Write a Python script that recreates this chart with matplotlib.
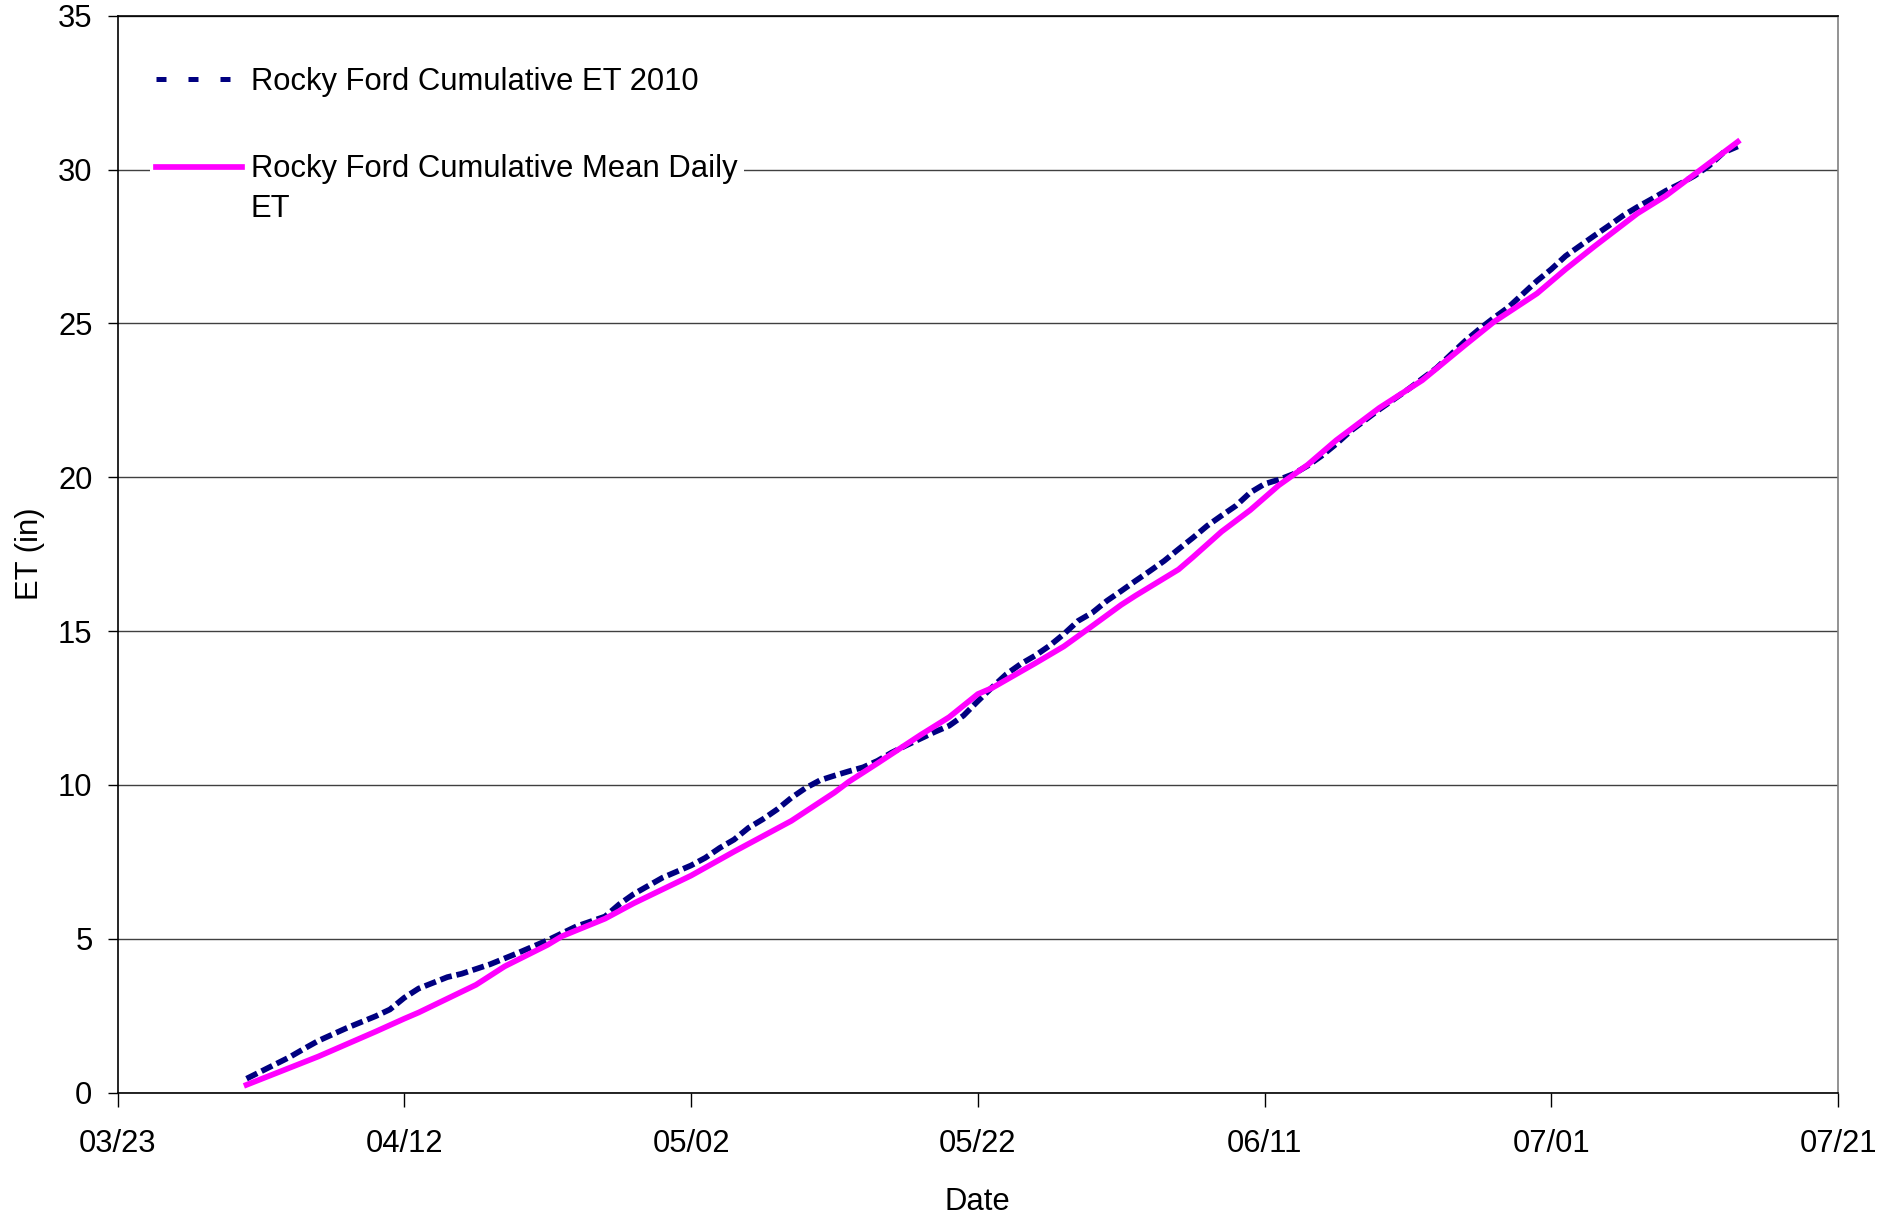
import numpy as np
import pandas as pd
import matplotlib
matplotlib.use("Agg")
from matplotlib import pyplot as plt
from matplotlib.lines import Line2D
import matplotlib.dates as mdates

plt.rcParams['font.family'] = ['Liberation Sans', 'DejaVu Sans']

# Rocky Ford cumulative ET 2010 (in)
et_2010_dates = ['2010-04-01', '2010-04-04', '2010-04-05', '2010-04-06', '2010-04-08',
                 '2010-04-10', '2010-04-11', '2010-04-12', '2010-04-13', '2010-04-15',
                 '2010-04-16', '2010-04-18', '2010-04-20', '2010-04-22', '2010-04-24',
                 '2010-04-26', '2010-04-27', '2010-04-28', '2010-04-30', '2010-05-01',
                 '2010-05-02', '2010-05-03', '2010-05-04', '2010-05-05', '2010-05-06',
                 '2010-05-07', '2010-05-08', '2010-05-09', '2010-05-10', '2010-05-11',
                 '2010-05-12', '2010-05-13', '2010-05-14', '2010-05-15', '2010-05-16',
                 '2010-05-17', '2010-05-18', '2010-05-19', '2010-05-20', '2010-05-21',
                 '2010-05-22', '2010-05-23', '2010-05-24', '2010-05-25', '2010-05-26',
                 '2010-05-27', '2010-05-28', '2010-05-29', '2010-05-30', '2010-05-31',
                 '2010-06-01', '2010-06-02', '2010-06-03', '2010-06-04', '2010-06-05',
                 '2010-06-06', '2010-06-07', '2010-06-08', '2010-06-09', '2010-06-10',
                 '2010-06-11', '2010-06-12', '2010-06-13', '2010-06-14', '2010-06-15',
                 '2010-06-16', '2010-06-17', '2010-06-18', '2010-06-19', '2010-06-21',
                 '2010-06-23', '2010-06-25', '2010-06-26', '2010-06-27', '2010-06-28',
                 '2010-06-29', '2010-06-30', '2010-07-01', '2010-07-02', '2010-07-03',
                 '2010-07-04', '2010-07-05', '2010-07-06', '2010-07-07', '2010-07-08',
                 '2010-07-09', '2010-07-10', '2010-07-11', '2010-07-12', '2010-07-13',
                 '2010-07-14']
et_2010 = [0.45, 1.15, 1.42, 1.68, 2.10,
           2.48, 2.70, 3.08, 3.38, 3.75,
           3.86, 4.17, 4.55, 4.95, 5.40,
           5.72, 6.12, 6.45, 6.98, 7.18,
           7.38, 7.63, 7.95, 8.22, 8.60,
           8.88, 9.20, 9.58, 9.90, 10.15,
           10.30, 10.44, 10.57, 10.78, 11.05,
           11.28, 11.50, 11.72, 11.92, 12.25,
           12.72, 13.17, 13.60, 13.93, 14.20,
           14.52, 14.90, 15.33, 15.60, 15.98,
           16.30, 16.63, 16.95, 17.28, 17.66,
           18.03, 18.42, 18.75, 19.07, 19.50,
           19.78, 19.92, 20.10, 20.37, 20.70,
           21.08, 21.50, 21.85, 22.20, 22.85,
           23.55, 24.43, 24.82, 25.18, 25.52,
           25.95, 26.38, 26.76, 27.19, 27.52,
           27.85, 28.17, 28.50, 28.78, 29.04,
           29.31, 29.54, 29.80, 30.12, 30.55,
           30.75]

# Rocky Ford cumulative mean daily ET (in)
mean_dates = ['2010-04-01', '2010-04-06', '2010-04-10', '2010-04-12', '2010-04-13',
              '2010-04-17', '2010-04-19', '2010-04-22', '2010-04-23', '2010-04-26',
              '2010-04-28', '2010-05-02', '2010-05-05', '2010-05-09', '2010-05-12',
              '2010-05-13', '2010-05-15', '2010-05-18', '2010-05-20', '2010-05-22',
              '2010-05-23', '2010-05-26', '2010-05-28', '2010-05-30', '2010-06-01',
              '2010-06-02', '2010-06-05', '2010-06-06', '2010-06-08', '2010-06-10',
              '2010-06-12', '2010-06-14', '2010-06-16', '2010-06-18', '2010-06-19',
              '2010-06-22', '2010-06-25', '2010-06-27', '2010-06-30', '2010-07-02',
              '2010-07-04', '2010-07-07', '2010-07-09', '2010-07-11', '2010-07-14']
mean_et = [0.25, 1.17, 1.98, 2.40, 2.60,
           3.50, 4.10, 4.80, 5.08, 5.65,
           6.15, 7.05, 7.83, 8.83, 9.75,
           10.10, 10.70, 11.62, 12.20, 12.95,
           13.15, 13.95, 14.50, 15.17, 15.85,
           16.15, 17.00, 17.40, 18.23, 18.93,
           19.74, 20.40, 21.20, 21.90, 22.25,
           23.15, 24.30, 25.05, 25.97, 26.76,
           27.50, 28.57, 29.15, 29.85, 30.90]

tick_dates = ['2010-03-23', '2010-04-12', '2010-05-02', '2010-05-22',
              '2010-06-11', '2010-07-01', '2010-07-21']
y_ticks = [0, 5, 10, 15, 20, 25, 30, 35]

navy = '#000080'
magenta = '#FF00FF'
fs = 22.3
lw = 4.1

fig = plt.figure(figsize=(18.8, 12.15), dpi=100)
ax = fig.add_axes([0.0625, 0.1008, 0.9152, 0.8863])

ax.plot(pd.to_datetime(et_2010_dates), et_2010, color=navy, lw=lw,
        dashes=(2.1, 0.85), zorder=3)
ax.plot(pd.to_datetime(mean_dates), mean_et, color=magenta, lw=lw, zorder=4)

ticks = pd.to_datetime(tick_dates)
ax.set_xlim(ticks[0], ticks[-1])
ax.set_xticks(ticks)
ax.xaxis.set_major_formatter(mdates.DateFormatter('%m/%d'))
ax.set_ylim(0, 35)
ax.set_yticks(y_ticks)

ax.grid(axis='y', color='#404040', lw=1.0)
ax.set_axisbelow(True)
for s in ax.spines.values():
    s.set_color('black')
    s.set_linewidth(1.2)
ax.spines['right'].set_color('#808080')

ax.tick_params(axis='x', length=10, width=1, pad=16, labelsize=fs)
ax.tick_params(axis='y', length=7, width=1, pad=11, labelsize=fs)

ax.set_xlabel('Date', fontsize=fs)
ax.set_ylabel('ET (in)', fontsize=fs)
ax.xaxis.set_label_coords(0.5, -0.0875)
ax.yaxis.set_label_coords(-0.042, 0.5)

# legend handles drawn like the Excel legend (square dots for the dashed series)
handles = [Line2D([], [], color=navy, lw=3.6, dashes=(2.0, 4.4)),
           Line2D([], [], color=magenta, lw=lw)]
labels = ['Rocky Ford Cumulative ET 2010', 'Rocky Ford Cumulative Mean Daily']
leg = ax.legend(handles, labels, loc='upper left', bbox_to_anchor=(0.019, 0.958),
                fontsize=fs, frameon=True, facecolor='white', edgecolor='none',
                framealpha=1, fancybox=False, handlelength=2.75, handletextpad=0.3,
                labelspacing=1.85, borderpad=0.2, borderaxespad=0)
leg.set_zorder(5)
ax.annotate('ET', xy=(0, 0), xycoords=leg.get_texts()[1], xytext=(0, -7),
            textcoords='offset points', ha='left', va='top', fontsize=fs,
            zorder=6)

fig.savefig('out.png', dpi=100)
